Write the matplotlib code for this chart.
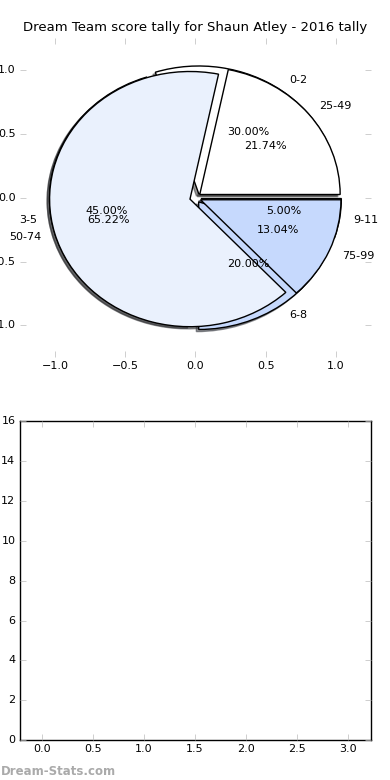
import matplotlib
matplotlib.use("Agg")
import matplotlib.pyplot as plt

plt.style.use("classic")
plt.rcParams['font.family'] = ['DejaVu Sans']

title = "Dream Team score tally for Shaun Atley - 2016 tally"

labels_a = ["0-2", "3-5", "6-8", "9-11"]
values_a = [6, 9, 4, 1]
labels_b = ["25-49", "50-74", "75-99"]
values_b = [5, 15, 3]

colors = ["#ffffff", "#eaf1fd", "#c6d9fd", "#a6c4fb"]

bar_x = [0, 1, 2, 3]
bar_h = [0, 0, 0, 0]

fig = plt.figure(figsize=(3.9, 7.8), dpi=100)
fig.patch.set_facecolor("white")

ax1 = fig.add_axes([0.051, 0.542, 0.9, 0.409])
wp = dict(edgecolor="black", linewidth=1.0)
shad = dict(ox=-0.012, oy=-0.012, shade=0.8)
ax1.pie(values_a, labels=labels_a, colors=colors[:4], explode=[0.04] * 4,
        autopct="%1.2f%%", shadow=shad, wedgeprops=wp,
        textprops=dict(fontsize=8))
ax1.pie(values_b, labels=labels_b, colors=colors[:3], explode=[0.04] * 3,
        autopct="%1.2f%%", shadow=shad, wedgeprops=wp,
        textprops=dict(fontsize=8))
ax1.set_aspect("auto")
ax1.set_frame_on(False)
ax1.set_xlim(-1.25, 1.25)
ax1.set_ylim(-1.25, 1.25)
ax1.set_xticks([-1.0, -0.5, 0.0, 0.5, 1.0])
ax1.set_yticks([-1.0, -0.5, 0.0, 0.5, 1.0])
ax1.tick_params(labelsize=8, color="#bbbbbb", pad=3)
ax1.set_title(title, fontsize=9.5, pad=5)

ax2 = fig.add_axes([0.05, 0.051, 0.9, 0.409])
ax2.bar(bar_x, bar_h, width=0.0)
ax2.set_xlim(-0.22, 3.22)
ax2.set_ylim(0, 16)
ax2.set_xticks([0.0, 0.5, 1.0, 1.5, 2.0, 2.5, 3.0])
ax2.set_yticks(range(0, 17, 2))
ax2.tick_params(labelsize=8, color="#bbbbbb", pad=3)

fig.text(0.002, 0.002, "Dream-Stats.com", fontsize=8.5, color="#aaaaaa",
         fontweight="bold", ha="left", va="bottom")

fig.savefig("out.png", dpi=100, facecolor="white")
